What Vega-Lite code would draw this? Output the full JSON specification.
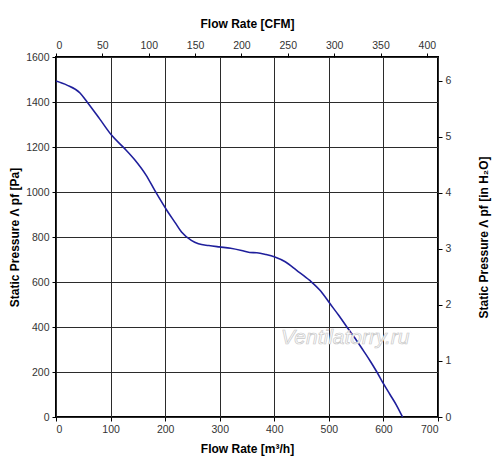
{
  "$schema": "https://vega.github.io/schema/vega-lite/v6.json",
  "width": 382,
  "height": 360,
  "autosize": {"type": "none"},
  "padding": {"left": 56, "top": 57, "right": 62, "bottom": 56},
  "background": "white",
  "config": {
    "view": {"stroke": "black", "strokeWidth": 2},
    "axis": {
      "domain": false,
      "tickColor": "black",
      "tickSize": 4,
      "tickWidth": 1,
      "gridColor": "#2b2b2b",
      "gridWidth": 1,
      "gridOpacity": 1,
      "labelFont": "Liberation Sans",
      "labelFontSize": 10.5,
      "labelColor": "#333333",
      "labelPadding": 3,
      "format": "d",
      "titleFont": "Liberation Sans",
      "titleFontSize": 12,
      "titleFontWeight": "bold",
      "titleColor": "black"
    }
  },
  "layer": [
    {
      "layer": [
        {
          "data": {
            "values": [
              {"flow": 0, "pa": 1493},
              {"flow": 20, "pa": 1475},
              {"flow": 44, "pa": 1440},
              {"flow": 57, "pa": 1400},
              {"flow": 80, "pa": 1325},
              {"flow": 102, "pa": 1252},
              {"flow": 125, "pa": 1195},
              {"flow": 145, "pa": 1141},
              {"flow": 165, "pa": 1075},
              {"flow": 181, "pa": 1007},
              {"flow": 203, "pa": 919},
              {"flow": 218, "pa": 865},
              {"flow": 230, "pa": 822},
              {"flow": 248, "pa": 785},
              {"flow": 261, "pa": 770},
              {"flow": 280, "pa": 762},
              {"flow": 299, "pa": 756},
              {"flow": 320, "pa": 750},
              {"flow": 340, "pa": 740},
              {"flow": 355, "pa": 731},
              {"flow": 368, "pa": 730},
              {"flow": 385, "pa": 722},
              {"flow": 401, "pa": 711},
              {"flow": 420, "pa": 690},
              {"flow": 441, "pa": 652},
              {"flow": 465, "pa": 607},
              {"flow": 485, "pa": 560},
              {"flow": 502, "pa": 504},
              {"flow": 518, "pa": 452},
              {"flow": 533, "pa": 400},
              {"flow": 548, "pa": 350},
              {"flow": 563, "pa": 296},
              {"flow": 576, "pa": 248},
              {"flow": 588, "pa": 200},
              {"flow": 600, "pa": 148},
              {"flow": 612, "pa": 100},
              {"flow": 624, "pa": 52},
              {"flow": 635, "pa": 0}
            ]
          },
          "mark": {"type": "line", "color": "#1f1f9c", "strokeWidth": 1.6, "interpolate": "monotone"},
          "encoding": {
            "x": {
              "field": "flow",
              "type": "quantitative",
              "scale": {"domain": [0, 700], "nice": false},
              "axis": {
                "orient": "bottom",
                "title": "Flow Rate [m³/h]",
                "values": [0, 100, 200, 300, 400, 500, 600, 700],
                "grid": true,
                "titlePadding": 9
              }
            },
            "y": {
              "field": "pa",
              "type": "quantitative",
              "scale": {"domain": [0, 1600], "nice": false},
              "axis": {
                "orient": "left",
                "title": "Static Pressure Λ pf [Pa]",
                "values": [0, 200, 400, 600, 800, 1000, 1200, 1400, 1600],
                "grid": true,
                "titlePadding": 4
              }
            }
          }
        },
        {
          "data": {"values": [{"flow": 530, "pa": 350, "label": "Ventilatorry.ru"}]},
          "mark": {
            "type": "text",
            "font": "Liberation Sans",
            "fontSize": 21,
            "fontStyle": "italic",
            "fill": "white",
            "stroke": "#c8c8c8",
            "strokeWidth": 0.7
          },
          "encoding": {
            "x": {"field": "flow", "type": "quantitative"},
            "y": {"field": "pa", "type": "quantitative"},
            "text": {"field": "label"}
          }
        }
      ]
    },
    {
      "data": {
        "values": [
          {"cfm": 0, "inh2o": 0},
          {"cfm": 412, "inh2o": 6.42}
        ]
      },
      "mark": {"type": "point", "opacity": 0},
      "encoding": {
        "x": {
          "field": "cfm",
          "type": "quantitative",
          "scale": {"domain": [0, 412], "nice": false},
          "axis": {
            "orient": "top",
            "title": "Flow Rate [CFM]",
            "values": [0, 50, 100, 150, 200, 250, 300, 350, 400],
            "grid": false,
            "titlePadding": 10
          }
        },
        "y": {
          "field": "inh2o",
          "type": "quantitative",
          "scale": {"domain": [0, 6.423], "nice": false},
          "axis": {
            "orient": "right",
            "title": "Static Pressure Λ pf [in H₂O]",
            "values": [0, 1, 2, 3, 4, 5, 6],
            "grid": false,
            "titleAngle": 270,
            "titlePadding": 40
          }
        }
      }
    }
  ],
  "resolve": {"scale": {"x": "independent", "y": "independent"}}
}
